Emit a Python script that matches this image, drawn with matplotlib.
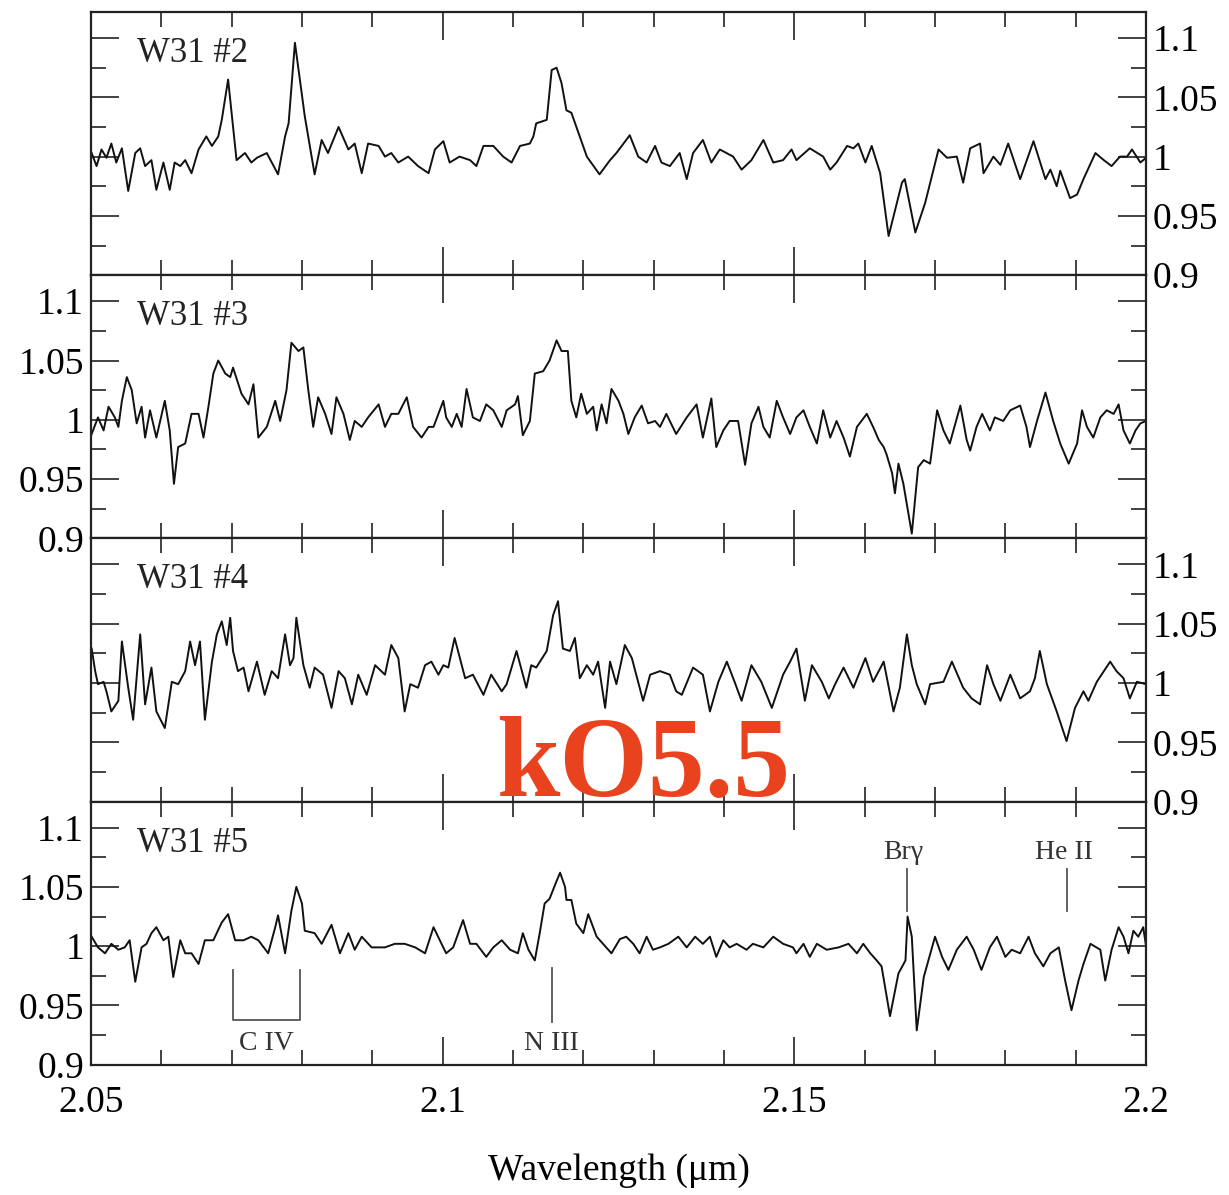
import matplotlib
matplotlib.use("Agg")
import matplotlib.pyplot as plt
from matplotlib.ticker import MultipleLocator, FuncFormatter

# spectra: wavelength (micron) and normalised flux

# W31 #2
wl_2 = [2.0501, 2.0508, 2.0515, 2.0522, 2.0529, 2.0536, 2.0544, 2.0553, 2.0563, 2.0570,
        2.0577, 2.0586, 2.0593, 2.0603, 2.0612, 2.0619, 2.0627, 2.0634, 2.0643, 2.0653,
        2.0664, 2.0672, 2.0681, 2.0686, 2.0695, 2.0707, 2.0719, 2.0728, 2.0736, 2.0750,
        2.0766, 2.0776, 2.0781, 2.0790, 2.0804, 2.0818, 2.0828, 2.0837, 2.0852, 2.0866,
        2.0875, 2.0885, 2.0894, 2.0909, 2.0918, 2.0927, 2.0937, 2.0951, 2.0965, 2.0980,
        2.0989, 2.1001, 2.1010, 2.1024, 2.1039, 2.1048, 2.1058, 2.1072, 2.1086, 2.1098,
        2.1110, 2.1124, 2.1129, 2.1133, 2.1148, 2.1155, 2.1162, 2.1169, 2.1176, 2.1183,
        2.1205, 2.1223, 2.1238, 2.1247, 2.1266, 2.1278, 2.1290, 2.1302, 2.1311, 2.1323,
        2.1337, 2.1347, 2.1356, 2.1370, 2.1382, 2.1394, 2.1413, 2.1425, 2.1439, 2.1456,
        2.1470, 2.1484, 2.1496, 2.1503, 2.1522, 2.1541, 2.1551, 2.1560, 2.1575, 2.1584,
        2.1591, 2.1601, 2.1610, 2.1622, 2.1634, 2.1653, 2.1657, 2.1672, 2.1686, 2.1705,
        2.1717, 2.1731, 2.1740, 2.1750, 2.1764, 2.1769, 2.1783, 2.1793, 2.1804, 2.1821,
        2.1840, 2.1857, 2.1864, 2.1873, 2.1878, 2.1892, 2.1902, 2.1911, 2.1928, 2.1940,
        2.1951, 2.1963, 2.1973, 2.1980, 2.1992, 2.2000]
fx_2 = [1.003, 0.992, 1.006, 0.999, 1.011, 0.995, 1.007, 0.971, 1.003, 1.007,
        0.992, 0.997, 0.972, 0.995, 0.972, 0.995, 0.992, 0.997, 0.986, 1.006,
        1.017, 1.009, 1.017, 1.031, 1.065, 0.997, 1.003, 0.995, 0.999, 1.003,
        0.985, 1.017, 1.028, 1.096, 1.034, 0.985, 1.014, 1.003, 1.025, 1.006,
        1.011, 0.986, 1.011, 1.009, 1.000, 1.003, 0.995, 1.000, 0.992, 0.986,
        1.006, 1.013, 0.995, 1.000, 0.997, 0.992, 1.009, 1.009, 1.000, 0.995,
        1.009, 1.011, 1.017, 1.028, 1.031, 1.073, 1.075, 1.062, 1.039, 1.037,
        1.000, 0.985, 0.997, 1.003, 1.018, 1.000, 0.995, 1.009, 0.995, 0.992,
        1.003, 0.981, 1.003, 1.014, 0.995, 1.006, 1.000, 0.989, 0.997, 1.014,
        0.995, 0.997, 1.006, 0.997, 1.007, 1.000, 0.989, 0.995, 1.009, 1.007,
        1.011, 0.995, 1.009, 0.986, 0.933, 0.978, 0.981, 0.936, 0.961, 1.006,
        0.999, 1.000, 0.978, 1.007, 1.011, 0.986, 1.000, 0.993, 1.011, 0.981,
        1.013, 0.981, 0.989, 0.975, 0.988, 0.965, 0.968, 0.981, 1.003, 0.997,
        0.992, 1.000, 1.000, 1.006, 0.995, 0.999]

# W31 #3
wl_3 = [2.0501, 2.0510, 2.0518, 2.0525, 2.0534, 2.0539, 2.0544, 2.0551, 2.0558, 2.0565,
        2.0572, 2.0577, 2.0584, 2.0593, 2.0605, 2.0612, 2.0618, 2.0624, 2.0634, 2.0643,
        2.0653, 2.0660, 2.0667, 2.0674, 2.0681, 2.0691, 2.0698, 2.0702, 2.0714, 2.0724,
        2.0731, 2.0738, 2.0750, 2.0762, 2.0769, 2.0778, 2.0785, 2.0795, 2.0802, 2.0809,
        2.0816, 2.0823, 2.0833, 2.0842, 2.0849, 2.0859, 2.0868, 2.0875, 2.0885, 2.0894,
        2.0909, 2.0918, 2.0927, 2.0937, 2.0949, 2.0958, 2.0970, 2.0980, 2.0987, 2.1001,
        2.1005, 2.1013, 2.1020, 2.1027, 2.1034, 2.1043, 2.1053, 2.1062, 2.1072, 2.1084,
        2.1091, 2.1103, 2.1107, 2.1114, 2.1124, 2.1131, 2.1143, 2.1152, 2.1162, 2.1169,
        2.1178, 2.1183, 2.1190, 2.1197, 2.1205, 2.1214, 2.1219, 2.1226, 2.1233, 2.1240,
        2.1250, 2.1257, 2.1264, 2.1273, 2.1283, 2.1292, 2.1302, 2.1309, 2.1318, 2.1332,
        2.1347, 2.1361, 2.1370, 2.1382, 2.1389, 2.1399, 2.1408, 2.1420, 2.1430, 2.1439,
        2.1449, 2.1456, 2.1465, 2.1475, 2.1484, 2.1494, 2.1503, 2.1513, 2.1522, 2.1532,
        2.1541, 2.1551, 2.1560, 2.1570, 2.1579, 2.1589, 2.1603, 2.1612, 2.1620, 2.1627,
        2.1631, 2.1639, 2.1643, 2.1648, 2.1655, 2.1667, 2.1676, 2.1684, 2.1693, 2.1703,
        2.1712, 2.1721, 2.1729, 2.1736, 2.1745, 2.1750, 2.1759, 2.1767, 2.1778, 2.1785,
        2.1797, 2.1807, 2.1821, 2.1830, 2.1835, 2.1845, 2.1857, 2.1868, 2.1878, 2.1890,
        2.1902, 2.1909, 2.1916, 2.1925, 2.1935, 2.1944, 2.1954, 2.1961, 2.1968, 2.1977,
        2.1985, 2.1992, 2.2000]
fx_3 = [0.988, 1.002, 0.991, 1.011, 1.002, 0.994, 1.016, 1.036, 1.025, 0.997,
        1.011, 0.985, 1.008, 0.985, 1.016, 0.991, 0.946, 0.977, 0.980, 1.005,
        1.005, 0.985, 1.011, 1.039, 1.050, 1.039, 1.036, 1.044, 1.022, 1.013,
        1.030, 0.985, 0.994, 1.016, 0.999, 1.025, 1.065, 1.058, 1.061, 1.025,
        0.994, 1.019, 1.005, 0.988, 1.019, 1.005, 0.983, 0.999, 0.994, 1.002,
        1.013, 0.994, 1.005, 1.005, 1.019, 0.994, 0.985, 0.994, 0.994, 1.016,
        1.002, 0.994, 1.005, 0.994, 1.026, 1.002, 0.999, 1.013, 1.008, 0.994,
        1.008, 1.013, 1.020, 0.987, 0.999, 1.039, 1.041, 1.050, 1.067, 1.058,
        1.058, 1.016, 1.002, 1.022, 1.005, 1.011, 0.991, 1.013, 0.997, 1.026,
        1.016, 1.005, 0.988, 1.002, 1.012, 0.997, 0.999, 0.994, 1.005, 0.988,
        1.002, 1.013, 0.985, 1.018, 0.977, 0.991, 0.999, 0.999, 0.962, 0.997,
        1.011, 0.994, 0.985, 1.016, 1.002, 0.988, 1.002, 1.008, 0.994, 0.980,
        1.008, 0.985, 0.999, 0.985, 0.969, 0.994, 1.005, 0.994, 0.983, 0.977,
        0.971, 0.955, 0.938, 0.963, 0.946, 0.904, 0.960, 0.966, 0.963, 1.008,
        0.991, 0.980, 0.997, 1.012, 0.983, 0.974, 0.994, 1.005, 0.991, 1.002,
        0.999, 1.008, 1.012, 0.994, 0.977, 0.999, 1.023, 0.999, 0.980, 0.963,
        0.980, 1.008, 0.994, 0.985, 1.002, 1.008, 1.005, 1.013, 0.991, 0.980,
        0.991, 0.997, 0.999]

# W31 #4
wl_4 = [2.0501, 2.0506, 2.0510, 2.0518, 2.0522, 2.0529, 2.0539, 2.0544, 2.0553, 2.0560,
        2.0570, 2.0577, 2.0586, 2.0593, 2.0605, 2.0615, 2.0624, 2.0634, 2.0641, 2.0648,
        2.0655, 2.0662, 2.0672, 2.0679, 2.0686, 2.0693, 2.0698, 2.0702, 2.0709, 2.0717,
        2.0724, 2.0736, 2.0747, 2.0757, 2.0766, 2.0776, 2.0783, 2.0788, 2.0792, 2.0802,
        2.0811, 2.0818, 2.0830, 2.0842, 2.0852, 2.0861, 2.0871, 2.0880, 2.0892, 2.0904,
        2.0918, 2.0927, 2.0937, 2.0946, 2.0954, 2.0965, 2.0975, 2.0984, 2.0994, 2.1001,
        2.1008, 2.1017, 2.1032, 2.1043, 2.1058, 2.1069, 2.1084, 2.1091, 2.1105, 2.1119,
        2.1126, 2.1133, 2.1148, 2.1157, 2.1164, 2.1171, 2.1181, 2.1188, 2.1195, 2.1205,
        2.1214, 2.1221, 2.1231, 2.1238, 2.1247, 2.1259, 2.1269, 2.1285, 2.1295, 2.1309,
        2.1323, 2.1332, 2.1340, 2.1356, 2.1370, 2.1380, 2.1392, 2.1404, 2.1415, 2.1425,
        2.1439, 2.1453, 2.1468, 2.1484, 2.1494, 2.1503, 2.1515, 2.1525, 2.1539, 2.1549,
        2.1558, 2.1570, 2.1584, 2.1601, 2.1612, 2.1627, 2.1641, 2.1650, 2.1660, 2.1667,
        2.1674, 2.1686, 2.1693, 2.1712, 2.1724, 2.1740, 2.1752, 2.1764, 2.1774, 2.1783,
        2.1793, 2.1807, 2.1821, 2.1835, 2.1842, 2.1849, 2.1859, 2.1873, 2.1887, 2.1899,
        2.1911, 2.1918, 2.1930, 2.1949, 2.1958, 2.1968, 2.1977, 2.1987, 2.2000]
fx_4 = [1.029, 1.010, 0.999, 1.001, 0.993, 0.976, 0.985, 1.035, 0.996, 0.969,
        1.041, 0.982, 1.013, 0.976, 0.962, 1.001, 0.999, 1.010, 1.035, 1.015,
        1.035, 0.969, 1.018, 1.041, 1.052, 1.032, 1.055, 1.027, 1.010, 1.013,
        0.993, 1.018, 0.990, 1.010, 1.004, 1.041, 1.015, 1.021, 1.055, 1.015,
        0.996, 1.013, 1.007, 0.979, 1.010, 1.004, 0.982, 1.007, 0.990, 1.015,
        1.007, 1.032, 1.021, 0.976, 0.999, 0.996, 1.015, 1.018, 1.007, 1.015,
        1.013, 1.038, 1.004, 1.007, 0.990, 1.007, 0.993, 0.999, 1.027, 0.996,
        1.015, 1.013, 1.027, 1.057, 1.069, 1.029, 1.027, 1.038, 1.004, 1.015,
        1.007, 1.018, 0.979, 1.018, 0.999, 1.032, 1.021, 0.985, 1.007, 1.010,
        1.007, 0.993, 0.990, 1.013, 1.007, 0.976, 1.001, 1.018, 1.001, 0.985,
        1.015, 1.001, 0.979, 1.007, 1.018, 1.029, 0.985, 1.015, 1.001, 0.987,
        0.999, 1.013, 0.996, 1.021, 1.001, 1.018, 0.976, 0.996, 1.041, 1.015,
        0.999, 0.982, 0.999, 1.001, 1.018, 0.996, 0.987, 0.982, 1.015, 0.999,
        0.985, 1.007, 0.987, 0.993, 1.004, 1.027, 0.999, 0.976, 0.951, 0.979,
        0.993, 0.985, 1.001, 1.018, 1.010, 1.004, 0.987, 1.001, 0.999]

# W31 #5
wl_5 = [2.0501, 2.0510, 2.0520, 2.0529, 2.0539, 2.0548, 2.0555, 2.0563, 2.0572, 2.0579,
        2.0586, 2.0593, 2.0603, 2.0610, 2.0617, 2.0627, 2.0634, 2.0643, 2.0653, 2.0662,
        2.0674, 2.0686, 2.0695, 2.0705, 2.0717, 2.0728, 2.0738, 2.0752, 2.0762, 2.0766,
        2.0776, 2.0785, 2.0792, 2.0800, 2.0804, 2.0818, 2.0828, 2.0842, 2.0854, 2.0866,
        2.0875, 2.0885, 2.0899, 2.0918, 2.0932, 2.0946, 2.0961, 2.0975, 2.0987, 2.1001,
        2.1005, 2.1015, 2.1029, 2.1039, 2.1048, 2.1062, 2.1072, 2.1084, 2.1096, 2.1107,
        2.1114, 2.1122, 2.1131, 2.1138, 2.1145, 2.1152, 2.1162, 2.1167, 2.1174, 2.1176,
        2.1183, 2.1190, 2.1200, 2.1207, 2.1219, 2.1228, 2.1240, 2.1252, 2.1261, 2.1271,
        2.1280, 2.1290, 2.1299, 2.1309, 2.1321, 2.1335, 2.1347, 2.1359, 2.1370, 2.1380,
        2.1389, 2.1399, 2.1408, 2.1418, 2.1432, 2.1441, 2.1456, 2.1470, 2.1484, 2.1498,
        2.1503, 2.1513, 2.1522, 2.1532, 2.1546, 2.1563, 2.1577, 2.1589, 2.1598, 2.1608,
        2.1617, 2.1624, 2.1636, 2.1648, 2.1658, 2.1661, 2.1667, 2.1674, 2.1684, 2.1700,
        2.1710, 2.1719, 2.1731, 2.1745, 2.1755, 2.1766, 2.1778, 2.1788, 2.1800, 2.1809,
        2.1821, 2.1833, 2.1842, 2.1854, 2.1864, 2.1876, 2.1885, 2.1894, 2.1904, 2.1911,
        2.1921, 2.1935, 2.1942, 2.1951, 2.1961, 2.1968, 2.1975, 2.1982, 2.1989, 2.1996,
        2.2000]
fx_5 = [1.008, 0.999, 0.994, 1.002, 0.997, 0.999, 1.005, 0.970, 0.999, 1.002,
        1.011, 1.016, 1.005, 1.008, 0.974, 1.005, 0.994, 0.994, 0.985, 1.005,
        1.005, 1.020, 1.027, 1.005, 1.005, 1.008, 1.005, 0.994, 1.016, 1.026,
        0.994, 1.030, 1.050, 1.036, 1.013, 1.011, 1.002, 1.018, 0.994, 1.011,
        0.997, 1.008, 0.999, 0.999, 1.002, 1.002, 0.999, 0.994, 1.016, 0.999,
        0.994, 0.999, 1.022, 1.002, 1.002, 0.991, 0.999, 1.005, 0.997, 0.994,
        1.011, 0.997, 0.988, 1.011, 1.036, 1.040, 1.055, 1.062, 1.050, 1.039,
        1.039, 1.019, 1.011, 1.027, 1.008, 1.002, 0.994, 1.006, 1.008, 1.002,
        0.994, 1.008, 0.997, 0.999, 1.002, 1.008, 0.999, 1.008, 1.002, 1.008,
        0.991, 1.005, 0.999, 1.002, 0.997, 1.002, 0.999, 1.008, 1.002, 0.999,
        0.994, 1.002, 0.991, 1.002, 0.997, 0.999, 1.002, 0.994, 1.002, 0.994,
        0.988, 0.983, 0.941, 0.977, 0.988, 1.025, 1.008, 0.929, 0.974, 1.008,
        0.991, 0.980, 0.997, 1.008, 0.997, 0.980, 0.999, 1.008, 0.991, 0.997,
        0.994, 1.008, 0.994, 0.983, 0.994, 0.999, 0.971, 0.946, 0.971, 0.985,
        1.002, 0.997, 0.971, 0.997, 1.016, 1.008, 0.994, 1.013, 1.008, 1.016,
        1.000]

panel_names = ["W31 #2", "W31 #3", "W31 #4", "W31 #5"]
spectra = [(wl_2, fx_2), (wl_3, fx_3), (wl_4, fx_4), (wl_5, fx_5)]
label_side = ["right", "left", "right", "left"]

# line identifications in the bottom panel
civ_x = [2.0702, 2.0702, 2.0797, 2.0797]
civ_y = [0.980, 0.938, 0.938, 0.980]
niii_x, niii_y = [2.1155, 2.1155], [0.936, 0.9815]
brg_x, brg_y = [2.1660, 2.1660], [1.030, 1.0655]
heii_x, heii_y = [2.1888, 2.1888], [1.030, 1.0655]

plt.rcParams['font.family'] = ['Liberation Serif', 'DejaVu Serif']

fig, axes = plt.subplots(4, 1, figsize=(12.29, 11.95), dpi=100, sharex=True)
fig.subplots_adjust(left=0.074, right=0.9325, top=0.99, bottom=0.109, hspace=0)

fmt = FuncFormatter(lambda v, p: "%g" % round(v, 3))

for i, ax in enumerate(axes):
    wl, fx = spectra[i]
    ax.plot(wl, fx, color="#111111", lw=1.4)
    ax.set_xlim(2.05, 2.2)
    ax.set_ylim(0.9, 1.122)
    ax.text(2.0565, 1.087, panel_names[i], fontsize=25, ha="left", va="center",
            color="#222222")

    ax.xaxis.set_major_locator(MultipleLocator(0.05))
    ax.xaxis.set_minor_locator(MultipleLocator(0.01))
    ax.yaxis.set_major_locator(MultipleLocator(0.05))
    ax.yaxis.set_minor_locator(MultipleLocator(0.025))
    ax.yaxis.set_major_formatter(fmt)
    ax.xaxis.set_major_formatter(fmt)

    right = label_side[i] == "right"
    ax.tick_params(which="both", direction="in", top=True, bottom=True,
                   left=True, right=True, width=1.2, color="#222222")
    ax.tick_params(which="major", length=20)
    ax.tick_params(which="minor", length=11)
    ax.tick_params(axis="y", labelleft=not right, labelright=right,
                   labelsize=27, pad=5)
    ax.tick_params(axis="x", labelbottom=(i == 3), labelsize=27, pad=15)
    for s in ax.spines.values():
        s.set_linewidth(1.6)
        s.set_color("#222222")

ax = axes[3]
ann = dict(color="#555555", lw=1.3)
ax.plot(civ_x, civ_y, **ann)
ax.plot(niii_x, niii_y, **ann)
ax.plot(brg_x, brg_y, **ann)
ax.plot(heii_x, heii_y, **ann)
ax.text(2.075, 0.918, "C IV", fontsize=20, ha="center", va="center", color="#333333")
ax.text(2.1155, 0.918, "N III", fontsize=20, ha="center", va="center", color="#333333")
ax.text(2.1655, 1.079, "Brγ", fontsize=20, ha="center", va="center", color="#333333")
ax.text(2.1883, 1.079, "He II", fontsize=20, ha="center", va="center", color="#333333")
ax.set_xlabel("Wavelength (μm)", fontsize=27, labelpad=24)

fig.text(0.523, 0.357, "kO5.5", fontsize=82, fontweight="bold", color="#e8421e",
         ha="center", va="center", zorder=10)

fig.savefig("out.png", dpi=100)
